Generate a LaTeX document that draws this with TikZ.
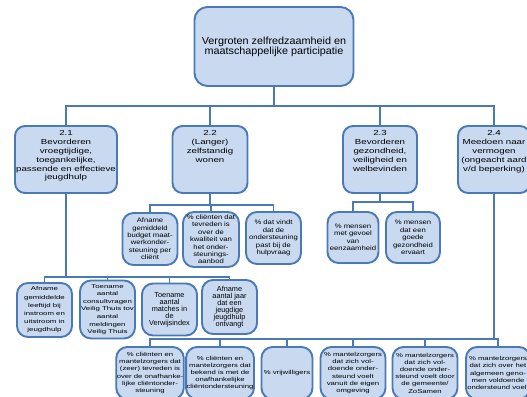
\documentclass[tikz,border=0pt]{standalone}
\usepackage{fontspec}
\setmainfont{Liberation Sans}
\newfontfamily\rootfamily{Liberation Sans}[FakeStretch=1.05]
\newfontfamily\goalfamily{Liberation Sans}[FakeStretch=1.33]
\newfontfamily\kfamily{Liberation Sans}[FakeStretch=1.2]
\newfontfamily\mfamily{Liberation Sans}[FakeStretch=1.4]
\newfontfamily\nfamily{Liberation Sans}[FakeStretch=1.33]
\usetikzlibrary{positioning}
\definecolor{boxfill}{RGB}{200,217,240}
\definecolor{boxline}{RGB}{74,122,182}

\begin{document}
\begin{tikzpicture}[x = 1pt, y = -1pt,
    every node/.style = {align = center, inner sep = 0.5pt},
    box/.style = {draw = boxline, line width = 1.9pt, fill = boxfill, rounded corners = 11pt},
    rootbox/.style = {box, minimum width = 159pt, minimum height = 79pt, rounded corners = 13pt,
        font = \rootfamily\fontsize{10.3}{10}\selectfont},
    goalbox/.style = {box, minimum height = 67pt, rounded corners = 10pt},
    goaltext/.style = {font = \goalfamily\fontsize{7.3}{8.8}\selectfont},
    kbox/.style = {box, font = \kfamily\fontsize{6.4}{7.4}\selectfont},
    mbox/.style = {box, minimum width = 55pt, font = \mfamily\fontsize{5.6}{8.2}\selectfont},
    bigbox/.style = {box, minimum width = 55pt, font = \fontsize{7.3}{7}\selectfont},
    nbox/.style = {box, minimum height = 52pt, font = \nfamily\fontsize{5.8}{7.2}\selectfont},
    link/.style = {draw = boxline, line width = 1.5pt}]
    \useasboundingbox (0,0) rectangle (527,396);
    \clip (0,0) rectangle (527,396);

    % top
    \node[rootbox] (root) at (274,46.5) {Vergroten zelfredzaamheid en\\maatschappelijke participatie};

    % goals
    \node[goalbox, minimum width = 102pt] (l21) at (66,159.5) {};
    \node[goalbox, minimum width = 75pt] (l22) at (210,159.5) {};
    \node[goalbox, minimum width = 74pt] (l23) at (380,159.5) {};
    \node[goalbox, minimum width = 72pt] (l24) at (494,159.5) {};
    \node[goaltext, below = 5pt of l21.north] (t21) {2.1\\Bevorderen\\vroegtijdige,\\toegankelijke,\\passende en effectieve\\jeugdhulp};
    \node[goaltext, below = 5pt of l22.north] (t22) {2.2\\(Langer)\\zelfstandig\\wonen};
    \node[goaltext, below = 5pt of l23.north] (t23) {2.3\\Bevorderen\\gezondheid,\\veiligheid en\\welbevinden};
    \node[goaltext, below = 5pt of l24.north] (t24) {2.4\\Meedoen naar\\vermogen\\(ongeacht aard\\v/d beperking)};

    % indicators 2.2 and 2.3
    \node[kbox, minimum width = 55pt, minimum height = 52pt] (k1) at (150,239) {Afname\\gemiddeld\\budget maat-\\werkonder-\\steuning per\\cliënt};
    \node[kbox, minimum width = 56pt, minimum height = 55pt] (k2) at (211,239.5) {\% cliënten dat\\tevreden is\\over de\\kwaliteit van\\het onder-\\steunings-\\aanbod};
    \node[kbox, minimum width = 55pt, minimum height = 52pt] (k3) at (273.5,238) {\% dat vindt\\dat de\\ondersteuning\\past bij de\\hulpvraag};
    \node[kbox, minimum width = 51pt, minimum height = 51pt] (k4) at (353,237.5) {\% mensen\\met gevoel\\van\\eenzaamheid};
    \node[kbox, minimum width = 54pt, minimum height = 51pt] (k5) at (413,237.5) {\% mensen\\dat een\\goede\\gezondheid\\ervaart};

    % indicators 2.1
    \node[mbox, minimum height = 54pt] (m1) at (44.5,310) {Afname\\gemiddelde\\leeftijd bij\\instroom en\\uitstroom in\\jeugdhulp};
    \node[mbox, minimum height = 58pt, font = \mfamily\fontsize{5.6}{7.6}\selectfont] (m2) at (107.5,309.5) {Toename\\aantal\\consultvragen\\Veilig Thuis tov\\aantal\\meldingen\\Veilig Thuis};
    \node[bigbox, minimum height = 52pt] (m3) at (169.5,309.5) {Toename\\aantal\\matches in\\de\\Verwijsindex};
    \node[bigbox, minimum height = 54pt] (m4) at (229.5,307) {Afname\\aantal jaar\\dat een\\jeugdige\\jeugdhulp\\ontvangt};

    % indicators 2.4
    \node[nbox, minimum width = 62pt] (n1) at (150,373) {\% cliënten en\\mantelzorgers dat\\(zeer) tevreden is\\over de onafhanke-\\lijke cliëntonder-\\steuning};
    \node[nbox, minimum width = 61pt] (n2) at (220,373) {\% cliënten en\\mantelzorgers dat\\bekend is met de\\onafhankelijke\\cliëntondersteuning};
    \node[nbox, minimum width = 51pt] (n3) at (287,373) {\% vrijwilligers};
    \node[nbox, minimum width = 65pt] (n4) at (353,373) {\% mantelzorgers\\dat zich vol-\\doende onder-\\steund voelt\\vanuit de eigen\\omgeving};
    \node[nbox, minimum width = 65pt] (n5) at (425,373) {\% mantelzorgers\\dat zich vol-\\doende onder-\\steund voelt door\\de gemeente/\\ZoSamen};
    \node[nbox, minimum width = 64pt] (n6) at (498,373) {\% mantelzorgers\\dat zich over het\\algemeen geno-\\men voldoende\\ondersteund voelt};

    % connectors
    \coordinate (b0) at (274,106);
    \coordinate (b21) at (66,277);
    \coordinate (b22) at (210,205);
    \coordinate (b23) at (380,202);
    \coordinate (b24) at (494,339);
    \draw[link] (root) -- (b0);
    \foreach \g in {l21, l22, l23, l24}
        \draw[link] (b0) -| (\g);
    \draw[link] (l21) -- (b21);
    \foreach \i in {m1, m2, m3, m4}
        \draw[link] (b21) -| (\i);
    \draw[link] (l22) -- (b22);
    \foreach \i in {k1, k2, k3}
        \draw[link] (b22) -| (\i);
    \draw[link] (l23) -- (b23);
    \foreach \i in {k4, k5}
        \draw[link] (b23) -| (\i);
    \draw[link] (l24) -- (b24);
    \foreach \i in {n1, n2, n3, n4, n5, n6}
        \draw[link] (b24) -| (\i);
\end{tikzpicture}
\end{document}
